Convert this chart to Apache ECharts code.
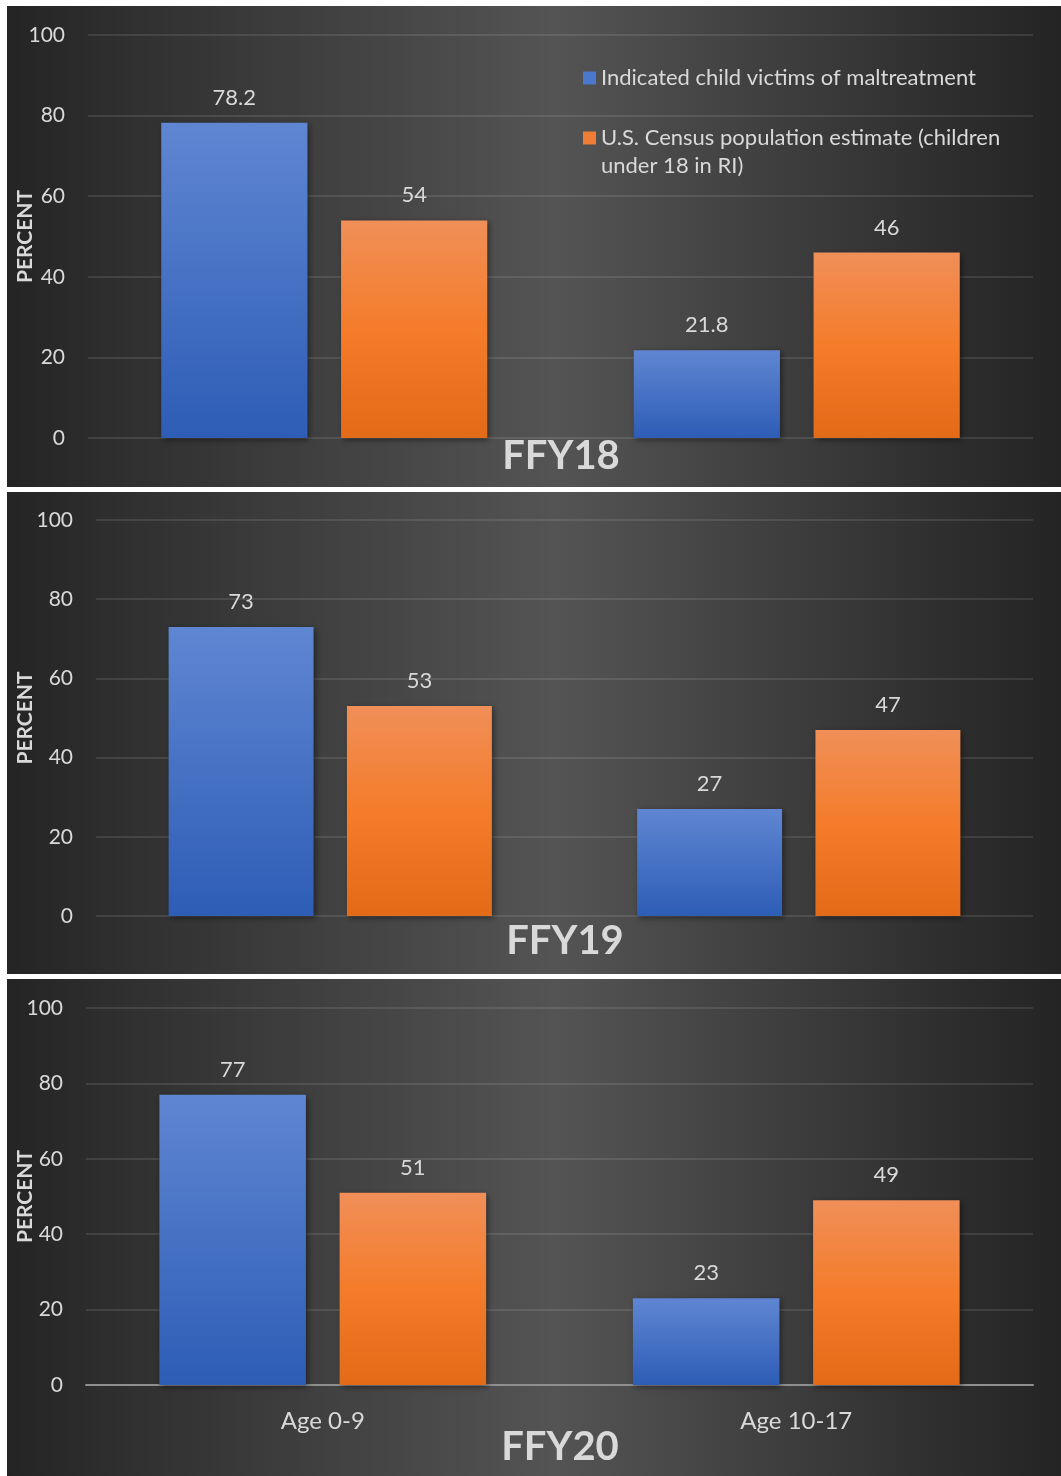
<!DOCTYPE html>
<html>
<head>
<meta charset="utf-8">
<script src="https://cdn.jsdelivr.net/npm/echarts@6/dist/echarts.min.js"></script>
<style>
html,body{margin:0;padding:0;background:#ffffff;}
#chart{width:1061px;height:1476px;}
</style>
</head>
<body>
<div id="chart"></div>
<script>
// ---- data ----
const categories = ['Age 0-9', 'Age 10-17'];
const seriesNames = ['Indicated child victims of maltreatment', 'U.S. Census population estimate (children under 18 in RI)'];
const panelTitles = ['FFY18', 'FFY19', 'FFY20'];
const ffy18Victims = [78.2, 21.8];
const ffy18Census = [54, 46];
const ffy19Victims = [73, 27];
const ffy19Census = [53, 47];
const ffy20Victims = [77, 23];
const ffy20Census = [51, 49];
const yTicks = [0, 20, 40, 60, 80, 100];
const yAxisName = 'PERCENT';

// ---- layout / style ----
const FONT = 'Lato, "Open Sans", sans-serif';
const TXT = '#d9d9d9';
const panels = [
  {x: 7, y: 6, w: 1054, h: 481, grid: {left: 88, top: 35, width: 945, height: 403}, nameGap: 52, title: {x: 561, y: 456}, victims: ffy18Victims, census: ffy18Census, showX: false},
  {x: 7, y: 492, w: 1054, h: 482, grid: {left: 96, top: 520, width: 937, height: 396}, nameGap: 60, title: {x: 565, y: 941}, victims: ffy19Victims, census: ffy19Census, showX: false},
  {x: 7, y: 979, w: 1054, h: 497, grid: {left: 86, top: 1008, width: 947, height: 377}, nameGap: 50, title: {x: 560, y: 1447}, victims: ffy20Victims, census: ffy20Census, showX: true}
];

const blueFill = {type: 'linear', x: 0, y: 0, x2: 0, y2: 1, colorStops: [{offset: 0, color: '#5f86d2'}, {offset: 1, color: '#2e5db6'}]};
const orangeFill = {type: 'linear', x: 0, y: 0, x2: 0, y2: 1, colorStops: [{offset: 0, color: '#f08f58'}, {offset: 0.5, color: '#f47c2a'}, {offset: 1, color: '#e36a17'}]};

const grids = [], xAxes = [], yAxes = [], series = [], graphics = [];
panels.forEach((p, i) => {
  graphics.push({
    type: 'rect', z: -100, silent: true,
    shape: {x: p.x, y: p.y, width: p.w, height: p.h},
    style: {fill: {type: 'linear', x: 0, y: 0, x2: 1, y2: 0, colorStops: [
      {offset: 0, color: '#242424'}, {offset: 0.12, color: '#303030'}, {offset: 0.52, color: '#545454'}, {offset: 0.88, color: '#2f2f2f'}, {offset: 1, color: '#242424'}]}}
  });
  graphics.push({
    type: 'text', z: 100, silent: true,
    x: p.title.x, y: p.title.y,
    style: {text: panelTitles[i], fill: TXT, font: 'bold 40px ' + FONT, textAlign: 'center', textVerticalAlign: 'middle'}
  });
  grids.push(Object.assign({containLabel: false, outerBoundsMode: 'none'}, p.grid));
  xAxes.push({
    type: 'category', gridIndex: i, data: categories,
    axisTick: {show: false},
    axisLine: {show: p.showX, lineStyle: {color: '#8f8f8f', width: 2}},
    axisLabel: {show: p.showX, color: TXT, fontFamily: FONT, fontSize: 24, margin: 24}
  });
  yAxes.push({
    type: 'value', gridIndex: i, min: yTicks[0], max: yTicks[yTicks.length - 1], interval: 20,
    name: yAxisName, nameLocation: 'middle', nameRotate: 90, nameGap: p.nameGap, nameMoveOverlap: false,
    nameTextStyle: {color: TXT, fontFamily: FONT, fontWeight: 'bold', fontSize: 21},
    axisLine: {show: false}, axisTick: {show: false},
    axisLabel: {color: TXT, fontFamily: FONT, fontSize: 21, margin: 23},
    splitLine: {lineStyle: {color: 'rgba(255,255,255,0.1)', width: 2}}
  });
  const common = {
    type: 'bar', xAxisIndex: i, yAxisIndex: i, barGap: '23%', barCategoryGap: '31%',
    label: {show: true, position: 'top', distance: 14, color: TXT, fontFamily: FONT, fontSize: 22},
    emphasis: {disabled: true}
  };
  series.push(Object.assign({}, common, {name: seriesNames[0], data: p.victims,
    itemStyle: {color: blueFill, shadowColor: 'rgba(0,0,0,0.45)', shadowBlur: 6, shadowOffsetX: 2, shadowOffsetY: 2}}));
  series.push(Object.assign({}, common, {name: seriesNames[1], data: p.census,
    itemStyle: {color: orangeFill, shadowColor: 'rgba(0,0,0,0.45)', shadowBlur: 6, shadowOffsetX: 2, shadowOffsetY: 2}}));
});

const chart = echarts.init(document.getElementById('chart'), null, {renderer: 'canvas'});
chart.setOption({
  backgroundColor: '#ffffff',
  animation: false,
  graphic: {elements: graphics},
  grid: grids,
  xAxis: xAxes,
  yAxis: yAxes,
  legend: {
    orient: 'vertical', left: 578, top: 59, itemWidth: 13, itemHeight: 13, itemGap: 4,
    icon: 'rect', selectedMode: false,
    formatter: function (n) { return n === seriesNames[1] ? ' \nU.S. Census population estimate (children\nunder 18 in RI)' : n; },
    textStyle: {color: TXT, fontFamily: FONT, fontSize: 22, lineHeight: 28},
    data: [
      {name: seriesNames[0], itemStyle: {color: '#4a78cf'}},
      {name: seriesNames[1], itemStyle: {color: '#f07d36'}}
    ]
  },
  series: series
});
</script>
</body>
</html>
